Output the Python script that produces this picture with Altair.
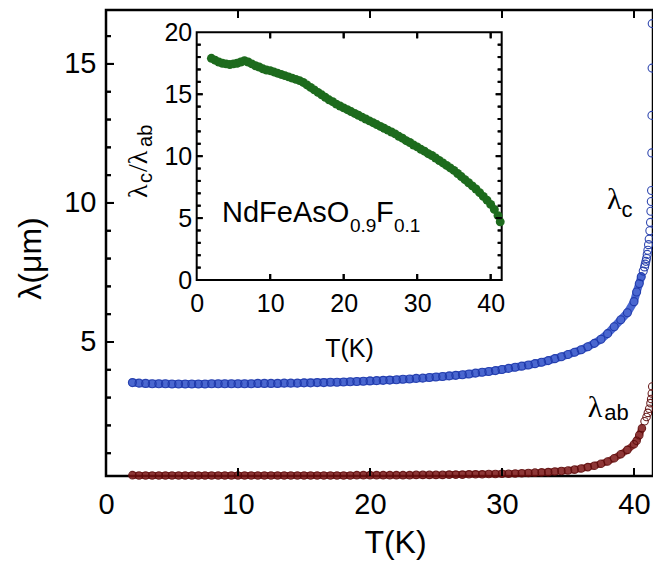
import altair as alt
import pandas as pd

# ---------------- data ----------------
T_grid = [2.0, 2.5, 3.0, 3.5, 4.0, 4.5, 5.0, 5.5, 6.0, 6.5, 7.0, 7.5, 8.0, 8.5, 9.0, 9.5, 10.0,
          10.5, 11.0, 11.5, 12.0, 12.5, 13.0, 13.5, 14.0, 14.5, 15.0,
          15.5, 16.0, 16.5, 17.0, 17.5, 18.0, 18.5, 19.0, 19.5, 20.0,
          20.5, 21.0, 21.5, 22.0, 22.5, 23.0, 23.5, 24.0, 24.5, 25.0,
          25.5, 26.0, 26.5, 27.0, 27.5, 28.0, 28.5, 29.0, 29.5, 30.0,
          30.5, 31.0, 31.5, 32.0, 32.5, 33.0, 33.5, 34.0, 34.5, 35.0,
          35.5, 36.0, 36.5, 37.0, 37.5, 38.0, 38.5, 39.0, 39.5, 40.0]

lam_c_grid = [3.54, 3.52, 3.51, 3.50, 3.50, 3.50, 3.49, 3.49, 3.49, 3.49, 3.49, 3.49, 3.50, 3.50, 3.50, 3.50, 3.50,
              3.50, 3.50, 3.51, 3.51, 3.51, 3.51, 3.52, 3.52, 3.52, 3.53,
              3.53, 3.54, 3.54, 3.55, 3.55, 3.56, 3.57, 3.58, 3.59, 3.60,
              3.61, 3.62, 3.63, 3.64, 3.66, 3.67, 3.69, 3.70, 3.72, 3.74,
              3.76, 3.78, 3.80, 3.82, 3.85, 3.88, 3.91, 3.94, 3.97, 4.01,
              4.05, 4.09, 4.13, 4.17, 4.22, 4.27, 4.33, 4.40, 4.47, 4.55,
              4.63, 4.72, 4.83, 4.95, 5.10, 5.30, 5.55, 5.80, 6.05, 6.45]
T_c_tail = [40.2, 40.4, 40.55, 40.7, 40.8, 40.85, 40.9, 40.95, 41.0, 41.05, 41.1, 41.15,
            41.2, 41.25, 41.28, 41.31, 41.33, 41.35, 41.36, 41.37, 41.38]
lam_c_tail = [6.8, 7.1, 7.35, 7.55, 7.7, 7.8, 7.9, 8.0, 8.15, 8.3, 8.5, 8.7,
              9.0, 9.3, 9.7, 10.05, 10.45, 11.8, 13.15, 14.85, 16.45]

lam_ab_grid = [0.21, 0.20, 0.20, 0.20, 0.20, 0.20, 0.20, 0.20, 0.20, 0.20, 0.20, 0.20, 0.20, 0.20, 0.20, 0.20, 0.20,
               0.20, 0.20, 0.20, 0.20, 0.20, 0.20, 0.20, 0.20, 0.20, 0.20,
               0.20, 0.20, 0.20, 0.20, 0.20, 0.20, 0.20, 0.21, 0.21, 0.21,
               0.21, 0.21, 0.21, 0.21, 0.21, 0.21, 0.22, 0.22, 0.22, 0.22,
               0.22, 0.23, 0.23, 0.23, 0.24, 0.24, 0.24, 0.25, 0.25, 0.26,
               0.26, 0.27, 0.28, 0.29, 0.30, 0.31, 0.32, 0.34, 0.36, 0.38,
               0.41, 0.45, 0.50, 0.55, 0.62, 0.70, 0.82, 0.96, 1.12, 1.32]
T_ab_tail = [40.2, 40.4, 40.6, 40.8, 40.95, 41.05, 41.15, 41.25, 41.3, 41.35, 41.38]
lam_ab_tail = [1.45, 1.65, 1.9, 2.15, 2.3, 2.45, 2.6, 2.8, 2.95, 3.15, 3.4]

T_ratio = T_grid + [40.5, 41.0, 41.3]
ratio = [17.9, 17.75, 17.6, 17.5, 17.45, 17.4, 17.45, 17.5, 17.6, 17.7, 17.6, 17.45, 17.3, 17.2, 17.05, 16.95, 16.9,
         16.8, 16.7, 16.6, 16.5, 16.4, 16.3, 16.2, 16.1, 15.95, 15.75,
         15.55, 15.35, 15.15, 14.95, 14.75, 14.55, 14.4, 14.2, 14.05, 13.9,
         13.75, 13.6, 13.45, 13.3, 13.15, 13.0, 12.85, 12.7, 12.55, 12.4,
         12.25, 12.1, 11.95, 11.8, 11.6, 11.45, 11.25, 11.1, 10.9, 10.75,
         10.55, 10.4, 10.2, 10.05, 9.85, 9.65, 9.45, 9.25, 9.05, 8.85,
         8.6, 8.35, 8.1, 7.85, 7.6, 7.35, 7.05, 6.75, 6.45, 6.1,
         5.7, 5.2, 4.7]

main_x_ticks = [10.0, 20.0, 30.0, 40.0]
main_x_labels = [0, 10, 20, 30, 40]
main_y_major = [5.0, 10.0, 15.0]
main_y_minor = [1.0, 2.0, 3.0, 4.0, 6.0, 7.0, 8.0, 9.0, 11.0, 12.0, 13.0, 14.0, 16.0]
ins_x_labels = [0, 10, 20, 30, 40]
ins_x_ticks = [10.0, 20.0, 30.0, 40.0]
ins_y_labels = [0, 5, 10, 15, 20]
ins_y_major = [5.0, 10.0, 15.0]
ins_y_minor = [1.0, 2.0, 3.0, 4.0, 6.0, 7.0, 8.0, 9.0, 11.0, 12.0, 13.0, 14.0, 16.0, 17.0, 18.0, 19.0]

# ---------------- layout constants ----------------
W, H = 547, 466
X_MAIN = [0, 41.44]
Y_MAIN = [0.18, 16.94]
X_INS = [0, 41.5]
Y_INS = [0, 20]
INS_XR = [90.7, 395.7]
INS_YR = [270, 22.3]
FONT = "Liberation Sans"

PPU_MX = W / (X_MAIN[1] - X_MAIN[0])
PPU_MY = H / (Y_MAIN[1] - Y_MAIN[0])
PPU_IX = (INS_XR[1] - INS_XR[0]) / (X_INS[1] - X_INS[0])
PPU_IY = (INS_YR[0] - INS_YR[1]) / (Y_INS[1] - Y_INS[0])


def tick_segments(xr, yr, ppx, ppy, y_major, y_minor, x_major, lmaj, lmin, right=True):
    """Inward tick segments (x0, x1, y0, y1) along the edges of a frame."""
    segs = []
    for vals, L in ((y_major, lmaj), (y_minor, lmin)):
        for v in vals:
            segs.append((xr[0], xr[0] + L / ppx, v, v))
            if right:
                segs.append((xr[1] - L / ppx, xr[1], v, v))
    for v in x_major:
        segs.append((v, v, yr[0], yr[0] + lmaj / ppy))
        segs.append((v, v, yr[1] - lmaj / ppy, yr[1]))
    return segs


def seg_rects(segs, ppx, ppy, half=1.0):
    """Each segment as a thin filled box of about 2 px thickness."""
    rows = []
    for x0, x1, y0, y1 in segs:
        if x0 == x1:
            rows.append((x0 - half / ppx, x0 + half / ppx, y0, y1))
        else:
            rows.append((x0, x1, y0 - half / ppy, y0 + half / ppy))
    return pd.DataFrame(rows, columns=["x0", "x1", "y0", "y1"])


def seg_lines(segs):
    rows = []
    for i, (x0, x1, y0, y1) in enumerate(segs):
        rows.append((i, 0, x0, y0))
        rows.append((i, 1, x1, y1))
    return pd.DataFrame(rows, columns=["id", "k", "x", "y"])


main_segs = tick_segments(X_MAIN, Y_MAIN, PPU_MX, PPU_MY, main_y_major, main_y_minor,
                          main_x_ticks, 8, 5, right=False)
ins_segs = tick_segments(X_INS, Y_INS, PPU_IX, PPU_IY, ins_y_major, ins_y_minor,
                         ins_x_ticks, 6, 4)

df_c = pd.DataFrame({"T": T_grid + T_c_tail, "lam": lam_c_grid + lam_c_tail})
df_ab = pd.DataFrame({"T": T_grid + T_ab_tail, "lam": lam_ab_grid + lam_ab_tail})
df_r = pd.DataFrame({"T": T_ratio, "r": ratio})
df_frame = pd.DataFrame({"x0": [X_INS[0]], "x1": [X_INS[1]], "y0": [Y_INS[0]], "y1": [Y_INS[1]]})

# annotation anchors (data coordinates)
lab_big = pd.DataFrame({"t": ["λ", "λ"], "T": [37.95, 36.5], "v": [9.8, 2.29]})
lab_sub = pd.DataFrame({"t": ["c", "ab"], "T": [39.05, 37.75], "v": [9.48, 2.18]})
form_big = pd.DataFrame({"t": ["NdFeAsO", "F"], "T": [3.44, 24.4], "v": [4.68, 4.68]})
form_sub = pd.DataFrame({"t": ["0.9", "0.1"], "T": [20.86, 26.83], "v": [3.88, 3.88]})
ytit_big = pd.DataFrame({"t": ["λ", "/λ"], "T": [-6.76, -6.76], "v": [6.62, 8.72]})
ytit_sub = pd.DataFrame({"t": ["c", "ab"], "T": [-6.08, -6.08], "v": [7.83, 10.74]})

# ---------------- styling ----------------
blue = "#2a4cc8"
blue_edge = "#1c36a8"
red = "#7a1414"
red_edge = "#5e0c0c"
green = "#1d6b1d"


def sx():
    return alt.Scale(domain=X_MAIN, nice=False, zero=False)


def sy():
    return alt.Scale(domain=Y_MAIN, nice=False, zero=False)


def ix():
    return alt.Scale(domain=X_INS, range=INS_XR, nice=False, zero=False)


def iy():
    return alt.Scale(domain=Y_INS, range=INS_YR, nice=False, zero=False)


ax_main_x = alt.Axis(orient="bottom", values=main_x_labels, ticks=False, tickSize=0, domain=False,
                     grid=False, labelFontSize=29, labelPadding=14, labelFlush=False,
                     labelColor="black", labelFont=FONT, title="T(K)", titleFontSize=32,
                     titleFontWeight="normal", titleColor="black", titleFont=FONT,
                     titleX=289, titleY=66, titleBaseline="middle")
ax_main_y = alt.Axis(orient="left", values=main_y_major, ticks=False, tickSize=0, domain=False,
                     grid=False, labelFontSize=29, labelPadding=10, labelFlush=False,
                     labelColor="black", labelFont=FONT, title="λ(μm)", titleFontSize=32,
                     titleFontWeight="normal", titleColor="black", titleFont=FONT,
                     titleX=-76, titleY=248, titleBaseline="middle", titleAngle=270)
ax_ins_x = alt.Axis(orient="bottom", offset=INS_YR[0] - H, values=ins_x_labels, ticks=False,
                    tickSize=0, domain=False, grid=False, labelFontSize=25, labelPadding=11,
                    labelFlush=False, labelColor="black", labelFont=FONT, title="T(K)",
                    titleFontSize=25, titleFontWeight="normal", titleColor="black",
                    titleFont=FONT, titleX=243, titleY=68, titleBaseline="middle")
ax_ins_y = alt.Axis(orient="left", offset=-INS_XR[0], values=ins_y_labels, ticks=False,
                    tickSize=0, domain=False, grid=False, labelFontSize=25, labelPadding=5,
                    labelFlush=False, labelColor="black", labelFont=FONT, title=None)


def tick_boxes(df, xs, ys):
    return alt.Chart(df).mark_rect(color="black", opacity=1).encode(
        x=alt.X("x0:Q", scale=xs(), axis=None), x2="x1:Q",
        y=alt.Y("y0:Q", scale=ys(), axis=None), y2="y1:Q")


def tick_lines(df, xs, ys):
    return alt.Chart(df).mark_line(color="black", strokeWidth=2, strokeCap="butt").encode(
        x=alt.X("x:Q", scale=xs(), axis=None), y=alt.Y("y:Q", scale=ys(), axis=None),
        detail="id:N", order="k:Q")


# ---------------- main layers ----------------
blue_line = alt.Chart(df_c).transform_filter("datum.T <= 40.6").mark_line(
    color=blue, strokeWidth=8, opacity=0.85, strokeCap="round").encode(
    x=alt.X("T:Q", scale=sx(), axis=ax_main_x),
    y=alt.Y("lam:Q", scale=sy(), axis=ax_main_y))
blue_pts = alt.Chart(df_c).mark_point(shape="circle", filled=False, size=64, strokeWidth=1.1,
                                      color=blue_edge, opacity=0.9).encode(
    x=alt.X("T:Q", scale=sx(), axis=None), y=alt.Y("lam:Q", scale=sy(), axis=None))
red_line = alt.Chart(df_ab).transform_filter("datum.T <= 40.6").mark_line(
    color=red, strokeWidth=7, opacity=0.85, strokeCap="round").encode(
    x=alt.X("T:Q", scale=sx(), axis=None), y=alt.Y("lam:Q", scale=sy(), axis=None))
red_pts = alt.Chart(df_ab).mark_point(shape="circle", filled=False, size=56, strokeWidth=1.1,
                                      color=red_edge, opacity=0.9).encode(
    x=alt.X("T:Q", scale=sx(), axis=None), y=alt.Y("lam:Q", scale=sy(), axis=None))

main_tb = tick_boxes(seg_rects(main_segs, PPU_MX, PPU_MY), sx, sy)
main_tl = tick_lines(seg_lines(main_segs), sx, sy)

lab1 = alt.Chart(lab_big).mark_text(font="Liberation Serif", fontSize=30, align="left",
                                    baseline="alphabetic", color="black").encode(
    x=alt.X("T:Q", scale=sx(), axis=None), y=alt.Y("v:Q", scale=sy(), axis=None), text="t:N")
lab2 = alt.Chart(lab_sub).mark_text(font=FONT, fontSize=22, align="left",
                                    baseline="alphabetic", color="black").encode(
    x=alt.X("T:Q", scale=sx(), axis=None), y=alt.Y("v:Q", scale=sy(), axis=None), text="t:N")

# ---------------- inset layers ----------------
frame = alt.Chart(df_frame).mark_rect(fillOpacity=0, stroke="black", strokeWidth=2).encode(
    x=alt.X("x0:Q", scale=ix(), axis=None), x2="x1:Q",
    y=alt.Y("y0:Q", scale=iy(), axis=None), y2="y1:Q")
green_pts = alt.Chart(df_r).mark_circle(size=80, color=green, opacity=1).encode(
    x=alt.X("T:Q", scale=ix(), axis=ax_ins_x), y=alt.Y("r:Q", scale=iy(), axis=ax_ins_y))

ins_tb = tick_boxes(seg_rects(ins_segs, PPU_IX, PPU_IY), ix, iy)
ins_tl = tick_lines(seg_lines(ins_segs), ix, iy)

f1 = alt.Chart(form_big).mark_text(font=FONT, fontSize=29, align="left", baseline="alphabetic",
                                   color="black").encode(
    x=alt.X("T:Q", scale=ix(), axis=None), y=alt.Y("v:Q", scale=iy(), axis=None), text="t:N")
f2 = alt.Chart(form_sub).mark_text(font=FONT, fontSize=19, align="left", baseline="alphabetic",
                                   color="black").encode(
    x=alt.X("T:Q", scale=ix(), axis=None), y=alt.Y("v:Q", scale=iy(), axis=None), text="t:N")
yt1 = alt.Chart(ytit_big).mark_text(font="Liberation Serif", fontSize=28, align="left",
                                    baseline="alphabetic", angle=270, color="black").encode(
    x=alt.X("T:Q", scale=ix(), axis=None), y=alt.Y("v:Q", scale=iy(), axis=None), text="t:N")
yt2 = alt.Chart(ytit_sub).mark_text(font=FONT, fontSize=20, align="left",
                                    baseline="alphabetic", angle=270, color="black").encode(
    x=alt.X("T:Q", scale=ix(), axis=None), y=alt.Y("v:Q", scale=iy(), axis=None), text="t:N")

chart = alt.layer(
    blue_line, blue_pts, red_line, red_pts, main_tb, main_tl, lab1, lab2,
    frame, green_pts, ins_tb, ins_tl, f1, f2, yt1, yt2
).resolve_scale(x="independent", y="independent").resolve_axis(
    x="independent", y="independent"
).properties(
    width=W, height=H,
    padding={"left": 98, "top": 2, "right": 0, "bottom": 85},
    autosize=alt.AutoSizeParams(type="none"),
).configure(font=FONT).configure_view(stroke="black", strokeWidth=2.5)

chart.save("out.html", embed_options={"renderer": "svg", "actions": False})
